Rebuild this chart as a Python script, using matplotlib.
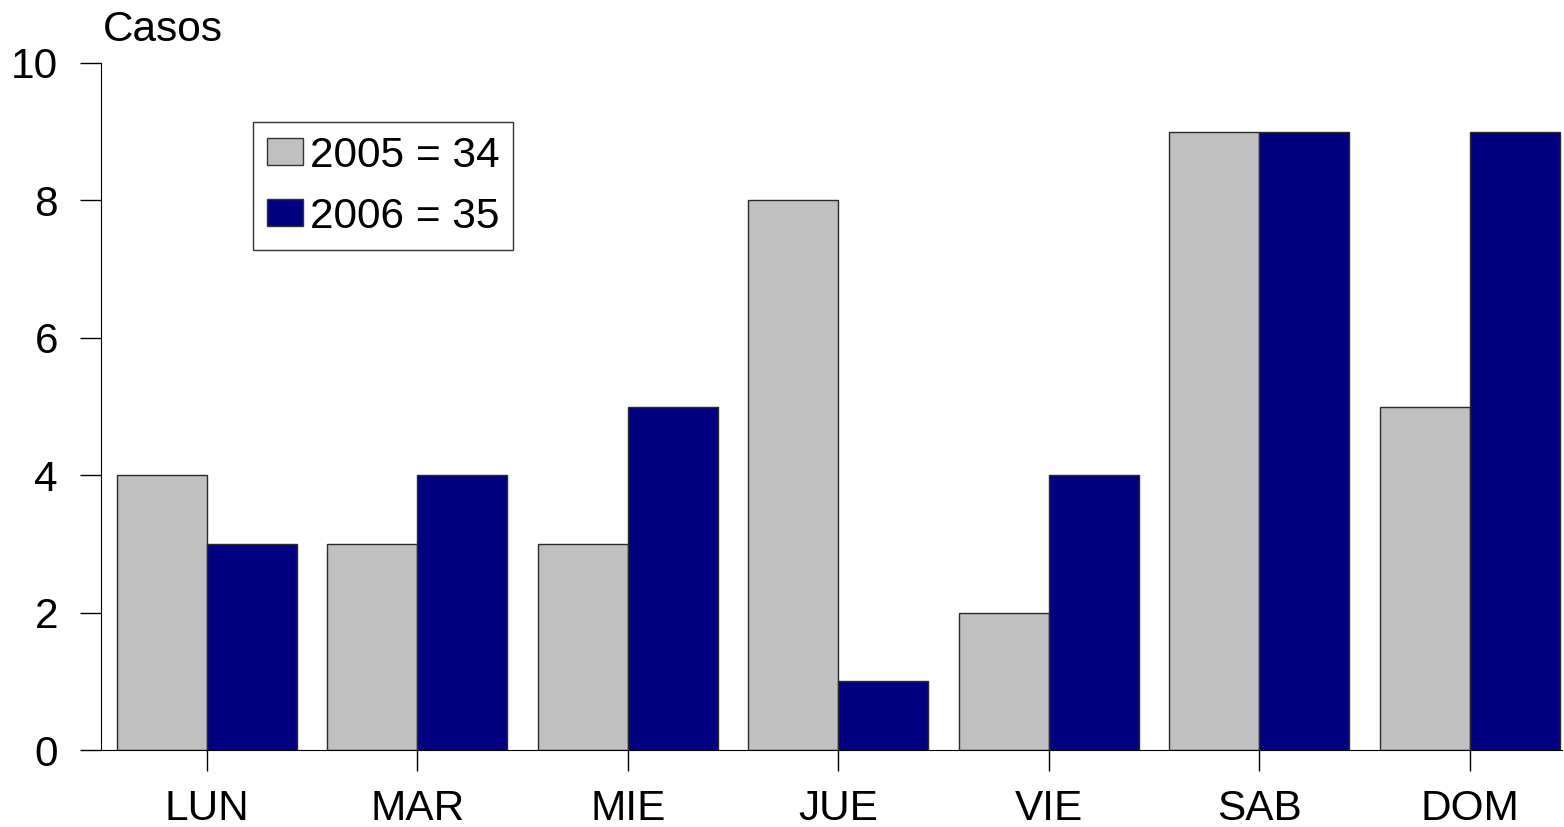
import matplotlib.pyplot as plt
import numpy as np
from matplotlib.patches import Patch

plt.rcParams['font.family'] = ['Liberation Sans', 'DejaVu Sans']

dias = ['LUN', 'MAR', 'MIE', 'JUE', 'VIE', 'SAB', 'DOM']
casos_2005 = [4, 3, 3, 8, 2, 9, 5]
casos_2006 = [3, 4, 5, 1, 4, 9, 9]
etiquetas = ['2005 = 34', '2006 = 35']
colores = ['#C0C0C0', '#000080']

fig = plt.figure(figsize=(15.64, 8.27), dpi=100)
ax = fig.add_axes([101/1564, 1 - 750/827, 1461/1564, 687/827])

x = np.arange(len(dias))
w = 0.4275
ax.bar(x - w/2, casos_2005, w, color=colores[0], edgecolor='#2a2a2a', linewidth=1)
ax.bar(x + w/2, casos_2006, w, color=colores[1], edgecolor='#2a2a2a', linewidth=1)

ax.set_xlim(-0.503, 6.437)
ax.set_ylim(0, 10)
ax.set_yticks([0, 2, 4, 6, 8, 10])
ax.set_xticks(x)
ax.set_xticklabels(dias)
ax.spines['top'].set_visible(False)
ax.spines['right'].set_visible(False)
ax.tick_params(axis='both', length=15, width=1, labelsize=30.5, direction='out')
ax.tick_params(axis='y', pad=16)
ax.tick_params(axis='x', pad=13)

fig.text(103/1564, 1 - 30/827, 'Casos', fontsize=30.5, ha='left', va='center')

handles = [Patch(facecolor=colores[0], edgecolor='#333333'),
           Patch(facecolor=colores[1], edgecolor='#333333')]
leg = fig.legend(handles, etiquetas, loc='upper left',
                 bbox_to_anchor=(253/1564, 1 - 122/827), fontsize=30.5,
                 fancybox=False, framealpha=1, edgecolor='#333333',
                 handlelength=0.87, handleheight=0.6, handletextpad=0.15,
                 borderpad=0.32, labelspacing=0.5, borderaxespad=0)
leg.get_frame().set_linewidth(1)

fig.savefig('out.png', dpi=100)
